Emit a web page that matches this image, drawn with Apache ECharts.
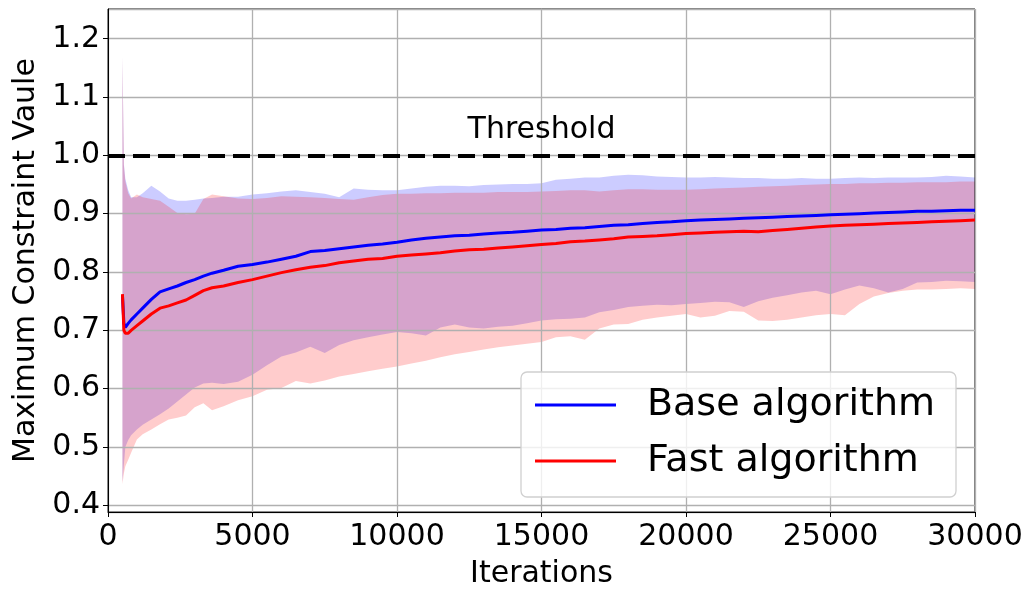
<!DOCTYPE html>
<html>
<head>
<meta charset="utf-8">
<script src="https://cdn.jsdelivr.net/npm/echarts@6/dist/echarts.min.js"></script>
<style>html,body{margin:0;padding:0;background:#fff;}#chart{width:1029px;height:594px;}</style>
</head>
<body>
<div id="chart"></div>
<script>
const iterations = [500, 550, 600, 700, 800, 1000, 1200, 1500, 1800, 2100, 2400, 2700, 3000, 3300, 3600, 4000, 4500,
  5000, 5500, 6000, 6500, 7000, 7500, 8000, 8500, 9000, 9500,
  10000, 10500, 11000, 11500, 12000, 12500, 13000, 13500, 14000, 14500,
  15000, 15500, 16000, 16500, 17000, 17500, 18000, 18500, 19000, 19500,
  20000, 20500, 21000, 21500, 22000, 22500, 23000, 23500, 24000, 24500,
  25000, 25500, 26000, 26500, 27000, 27500, 28000, 28500, 29000, 29500, 30000];

const baseMean = [0.760, 0.712, 0.705, 0.712, 0.718, 0.728, 0.738, 0.753, 0.766, 0.771, 0.776, 0.782, 0.787, 0.793, 0.798, 0.803, 0.810,
  0.813, 0.817, 0.822, 0.827, 0.835, 0.837, 0.840, 0.843, 0.846, 0.848,
  0.851, 0.855, 0.858, 0.860, 0.862, 0.863, 0.865, 0.867, 0.868, 0.870,
  0.872, 0.873, 0.875, 0.876, 0.878, 0.880, 0.881, 0.883, 0.885, 0.886,
  0.888, 0.889, 0.890, 0.891, 0.892, 0.893, 0.894, 0.895, 0.896, 0.897,
  0.898, 0.899, 0.900, 0.901, 0.902, 0.903, 0.904, 0.904, 0.905, 0.906, 0.906];

const fastMean = [0.762, 0.700, 0.695, 0.695, 0.700, 0.708, 0.716, 0.728, 0.738, 0.742, 0.747, 0.752, 0.760, 0.768, 0.773, 0.776, 0.782,
  0.787, 0.793, 0.799, 0.804, 0.808, 0.811, 0.816, 0.819, 0.822, 0.823,
  0.827, 0.829, 0.831, 0.833, 0.836, 0.838, 0.839, 0.841, 0.843, 0.845,
  0.847, 0.849, 0.852, 0.853, 0.855, 0.857, 0.860, 0.861, 0.862, 0.864,
  0.866, 0.867, 0.868, 0.869, 0.870, 0.869, 0.871, 0.873, 0.875, 0.877,
  0.879, 0.880, 0.881, 0.882, 0.883, 0.884, 0.885, 0.886, 0.887, 0.888, 0.889];

const baseUpper = [1.170, 0.985, 0.960, 0.940, 0.928, 0.928, 0.935, 0.948, 0.938, 0.926, 0.922, 0.922, 0.924, 0.926, 0.927, 0.929, 0.929,
  0.933, 0.935, 0.938, 0.940, 0.937, 0.934, 0.928, 0.943, 0.941, 0.940,
  0.940, 0.943, 0.946, 0.948, 0.948, 0.947, 0.949, 0.950, 0.951, 0.951,
  0.952, 0.958, 0.960, 0.962, 0.962, 0.965, 0.967, 0.966, 0.964, 0.963,
  0.962, 0.962, 0.963, 0.962, 0.961, 0.961, 0.960, 0.960, 0.961, 0.960,
  0.960, 0.961, 0.962, 0.961, 0.962, 0.962, 0.962, 0.963, 0.965, 0.964, 0.962];

const baseLower = [0.440, 0.470, 0.500, 0.512, 0.520, 0.530, 0.538, 0.547, 0.556, 0.566, 0.578, 0.590, 0.602, 0.609, 0.610, 0.608, 0.612,
  0.624, 0.640, 0.655, 0.662, 0.672, 0.661, 0.675, 0.683, 0.688, 0.693,
  0.697, 0.695, 0.691, 0.705, 0.710, 0.705, 0.703, 0.706, 0.708, 0.712,
  0.717, 0.719, 0.720, 0.722, 0.731, 0.735, 0.740, 0.742, 0.744, 0.743,
  0.745, 0.747, 0.749, 0.748, 0.740, 0.750, 0.756, 0.760, 0.765, 0.768,
  0.762, 0.770, 0.777, 0.772, 0.765, 0.771, 0.782, 0.783, 0.785, 0.784, 0.783];

const fastUpper = [1.170, 0.983, 0.955, 0.935, 0.926, 0.933, 0.928, 0.925, 0.922, 0.912, 0.901, 0.899, 0.900, 0.925, 0.933, 0.930, 0.926,
  0.925, 0.927, 0.930, 0.929, 0.928, 0.927, 0.925, 0.924, 0.928, 0.932,
  0.934, 0.934, 0.935, 0.935, 0.936, 0.936, 0.936, 0.937, 0.937, 0.937,
  0.938, 0.939, 0.940, 0.940, 0.938, 0.940, 0.942, 0.942, 0.941, 0.941,
  0.941, 0.942, 0.943, 0.944, 0.945, 0.946, 0.947, 0.948, 0.949, 0.950,
  0.951, 0.951, 0.952, 0.952, 0.953, 0.953, 0.954, 0.954, 0.954, 0.955, 0.955];

const fastLower = [0.436, 0.455, 0.467, 0.478, 0.490, 0.513, 0.522, 0.530, 0.539, 0.547, 0.550, 0.554, 0.568, 0.575, 0.563, 0.570, 0.580,
  0.587, 0.598, 0.601, 0.613, 0.609, 0.614, 0.621, 0.625, 0.630, 0.634,
  0.638, 0.643, 0.648, 0.654, 0.659, 0.663, 0.667, 0.671, 0.674, 0.677,
  0.680, 0.688, 0.690, 0.684, 0.703, 0.710, 0.711, 0.718, 0.722, 0.725,
  0.728, 0.722, 0.725, 0.733, 0.732, 0.717, 0.716, 0.718, 0.722, 0.726,
  0.728, 0.726, 0.745, 0.758, 0.764, 0.768, 0.770, 0.770, 0.771, 0.772, 0.771];

const seriesNames = ['Base algorithm', 'Fast algorithm'];
const thresholdValue = 1.0;
const thresholdLabel = 'Threshold';
const xAxisName = 'Iterations';
const yAxisName = 'Maximum Constraint Vaule';

const FONT = 'DejaVu Sans';
const pairs = arr => iterations.map((x, i) => [x, arr[i]]);

// band drawn as one polygon through the axes' own coordinate mapping
const bandSeries = (name, lo, hi, color) => ({
  name: name, type: 'custom', silent: true, clip: true, z: -1,
  data: iterations.map((x, i) => [x, lo[i], hi[i]]),
  encode: {x: 0, y: [1, 2]},
  renderItem: (params, api) => {
    if (params.dataIndex !== 0) return null;
    const pts = [];
    for (let i = 0; i < iterations.length; i++) pts.push(api.coord([iterations[i], hi[i]]));
    for (let i = iterations.length - 1; i >= 0; i--) pts.push(api.coord([iterations[i], lo[i]]));
    return {type: 'polygon', shape: {points: pts}, style: {fill: color, stroke: null}};
  }
});

const chart = echarts.init(document.getElementById('chart'), null, {renderer: 'canvas'});
chart.setOption({
  animation: false,
  backgroundColor: '#fff',
  grid: {left: 108, right: 54, top: 9, bottom: 77.5, show: true, borderColor: '#000', borderWidth: 1, backgroundColor: 'transparent'},
  legend: {
    data: seriesNames, orient: 'vertical', left: 521, top: 372,
    padding: [14, 21, 17, 14], itemGap: 18, itemWidth: 81, itemHeight: 3, icon: 'rect',
    backgroundColor: 'rgba(255,255,255,0.8)', borderColor: '#d0d0d0', borderWidth: 1.3, borderRadius: 6,
    textStyle: {fontFamily: FONT, fontSize: 38, color: '#000', padding: [0, 0, 0, 26]},
    selectedMode: false, z: 10
  },
  xAxis: {
    type: 'value', min: 0, max: 30000, interval: 5000,
    name: xAxisName, nameLocation: 'middle', nameGap: 47,
    nameTextStyle: {fontFamily: FONT, fontSize: 30, color: '#000'},
    axisLine: {show: true, onZero: false, lineStyle: {color: '#000', width: 1}},
    axisTick: {show: true, length: 5, lineStyle: {color: '#000', width: 1}},
    axisLabel: {fontFamily: FONT, fontSize: 30, color: '#000', margin: 10, formatter: v => String(v)},
    splitLine: {show: true, lineStyle: {color: '#b0b0b0', width: 1.3}}
  },
  yAxis: {
    type: 'value', min: 0.3885, max: 1.251, splitNumber: 8,
    name: yAxisName, nameLocation: 'middle', nameGap: 62, nameRotate: 90,
    nameTextStyle: {fontFamily: FONT, fontSize: 30, color: '#000'},
    axisLine: {show: true, onZero: false, lineStyle: {color: '#000', width: 1}},
    axisTick: {show: true, length: 5, lineStyle: {color: '#000', width: 1}},
    axisLabel: {fontFamily: FONT, fontSize: 30, color: '#000', margin: 8, showMinLabel: false, showMaxLabel: false,
      formatter: v => v.toFixed(1)},
    splitLine: {show: true, lineStyle: {color: '#b0b0b0', width: 1.3}}
  },
  series: [
    bandSeries('baseBand', baseLower, baseUpper, 'rgba(0,0,255,0.2)'),
    bandSeries('fastBand', fastLower, fastUpper, 'rgba(255,0,0,0.2)'),
    {
      name: seriesNames[0], type: 'line', data: pairs(baseMean), symbol: 'none', z: 3,
      lineStyle: {color: '#0000ff', width: 3}, itemStyle: {color: '#0000ff'}
    },
    {
      name: seriesNames[1], type: 'line', data: pairs(fastMean), symbol: 'none', z: 4,
      lineStyle: {color: '#ff0000', width: 3}, itemStyle: {color: '#ff0000'},
      markLine: {
        silent: true, symbol: 'none', animation: false,
        lineStyle: {color: '#000', width: 4, type: [17, 8]},
        label: {show: true, position: 'middle', formatter: thresholdLabel, fontFamily: FONT, fontSize: 30, color: '#000', distance: 10},
        data: [{yAxis: thresholdValue}]
      }
    }
  ]
});
</script>
</body>
</html>
